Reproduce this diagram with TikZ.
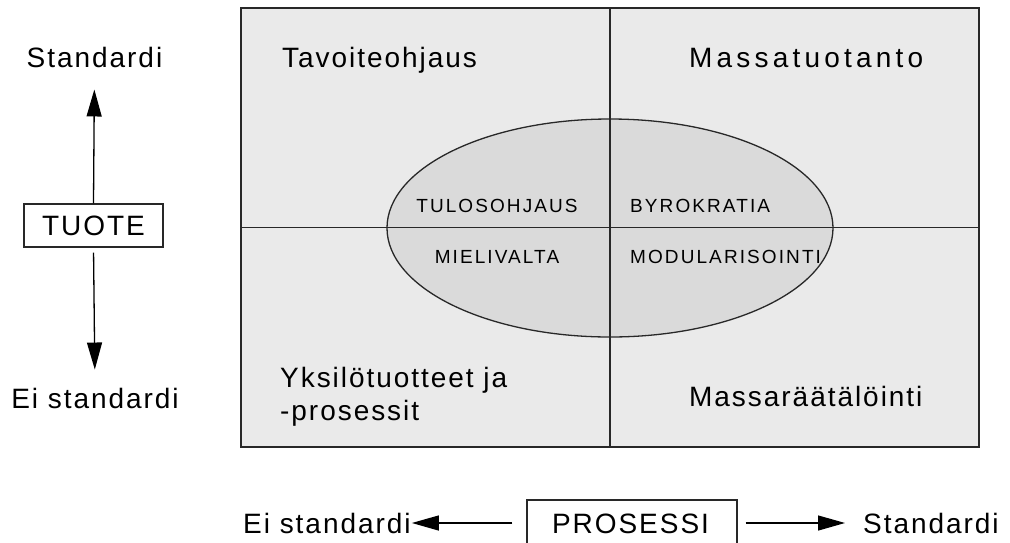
\documentclass[tikz,border=0pt]{standalone}
\usepackage{fontspec}
\setmainfont{Liberation Sans}
\newfontfamily\labelfont[LetterSpace=7]{Liberation Sans}
\newfontfamily\widefont[LetterSpace=15]{Liberation Sans}
\newfontfamily\smallfont[LetterSpace=11]{Liberation Sans}
\usetikzlibrary{shapes.geometric,arrows.meta}
\definecolor{fieldgray}{RGB}{234,234,234}
\definecolor{ovalgray}{RGB}{218,218,218}
\definecolor{inkgray}{RGB}{40,40,40}
\tikzset{
  big/.style={inner sep=0pt, font=\labelfont\fontsize{28}{33}\selectfont},
  bigwide/.style={inner sep=0pt, font=\widefont\fontsize{28}{33}\selectfont},
  small/.style={inner sep=0pt, font=\smallfont\fontsize{19}{22}\selectfont},
  boxed/.style={draw=inkgray, line width=1.2pt, inner sep=0pt},
  arr/.style={draw=black, line width=1.3pt,
    -{Triangle[length=27pt,width=15pt]}},
  divider/.style={draw=inkgray, line width=1.6pt},
}
\begin{document}
\begin{tikzpicture}[x=1pt,y=-1pt]
  \clip (0,0) rectangle (1010,542);
  \fill[white] (0,0) rectangle (1010,542);

  % the four-field grid with the central oval
  \node[draw=inkgray, line width=1.8pt, fill=fieldgray, inner sep=0pt,
        minimum width=738pt, minimum height=439pt] (frame) at (610,227.5) {};
  \node[ellipse, draw=inkgray, line width=1.3pt, fill=ovalgray, inner sep=0pt,
        minimum width=446pt, minimum height=218pt] (oval) at (610,228) {};
  \draw[divider] (frame.north) -- (frame.south);
  \draw[divider] (frame.west) -- (frame.east);

  % quadrant titles
  \node[big, anchor=base west] (tavo) at (282,67) {Tavoiteohjaus};
  \node[bigwide, anchor=base west] (massa) at (689,67) {Massatuotanto};
  \node[big, anchor=north west, align=left] (yksi) at (280,367.5)
       {Yksilötuotteet ja\\-prosessit};
  \node[big, anchor=base west] (mraat) at (689,406) {Massaräätälöinti};

  % labels inside the oval
  \node[small, anchor=base] (tulos) at (497,212) {TULOSOHJAUS};
  \node[small, anchor=base west] (byro) at (630,212) {BYROKRATIA};
  \node[small, anchor=base] (mieli) at (497,263) {MIELIVALTA};
  \node[small, anchor=base west] (modu) at (630,263) {MODULARISOINTI};

  % product axis
  \node[boxed, big, minimum width=139pt, minimum height=43pt] (tuote) at (93.5,225.5) {TUOTE};
  \node[big, anchor=base] (stdL) at (94.5,67) {Standardi};
  \node[big, anchor=base] (eiL) at (95,408) {Ei standardi};
  \draw[arr, shorten >=22pt] (tuote.north) -- (stdL.south);
  \draw[arr, shorten <=5pt, shorten >=18pt] (tuote.south) -- (eiL.north);

  % process axis
  \node[boxed, big, minimum width=210pt, minimum height=60pt] (pros) at (632,530) {};
  \node[big, anchor=base] (prosT) at (630.5,533) {PROSESSI};
  \node[big, anchor=base west] (eiB) at (243,533) {Ei standardi};
  \node[big, anchor=base west] (stdB) at (863,533) {Standardi};
  \draw[arr, shorten <=14pt, shorten >=1pt] (pros.west |- 0,523) -- (eiB.east |- 0,523);
  \draw[arr, shorten <=8pt, shorten >=18pt] (pros.east |- 0,523) -- (stdB.west |- 0,523);
\end{tikzpicture}
\end{document}
